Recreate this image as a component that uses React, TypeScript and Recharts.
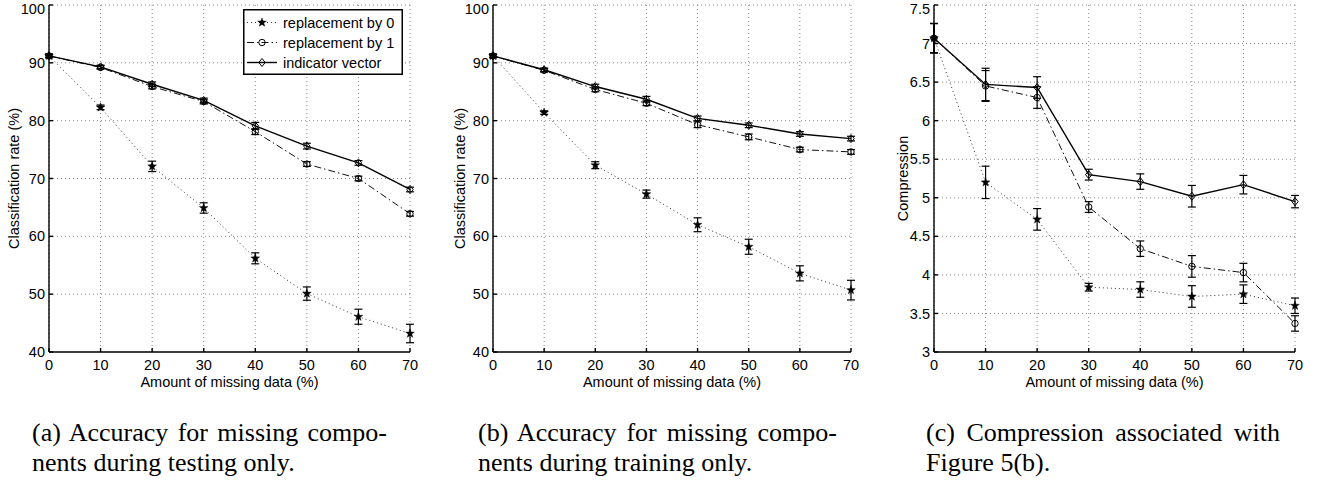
import { LineChart, Line, XAxis, YAxis, CartesianGrid, ErrorBar, Legend } from 'recharts';

// amount of missing data (%)
const missing = [0, 10, 20, 30, 40, 50, 60, 70];
const seriesNames = ['replacement by 0', 'replacement by 1', 'indicator vector'];

// (a) missing components during testing only
const aRep0 = [91.2, 82.3, 72.1, 64.9, 56.2, 50.1, 46.1, 43.2];
const aRep0Err = [0.3, 0.4, 0.9, 0.9, 0.95, 1.15, 1.3, 1.6];
const aRep1 = [91.2, 89.2, 85.9, 83.3, 78.1, 72.5, 70.0, 63.9];
const aRep1Err = [0.3, 0.3, 0.4, 0.4, 0.5, 0.4, 0.4, 0.4];
const aInd = [91.2, 89.3, 86.3, 83.5, 79.1, 75.6, 72.7, 68.1];
const aIndErr = [0.3, 0.3, 0.4, 0.4, 0.6, 0.5, 0.4, 0.4];

// (b) missing components during training only
const bRep0 = [91.2, 81.4, 72.3, 67.3, 62.0, 58.2, 53.6, 50.7];
const bRep0Err = [0.3, 0.3, 0.6, 0.7, 1.2, 1.3, 1.3, 1.7];
const bRep1 = [91.2, 88.7, 85.4, 83.0, 79.3, 77.2, 75.0, 74.6];
const bRep1Err = [0.3, 0.3, 0.4, 0.4, 0.5, 0.5, 0.4, 0.4];
const bInd = [91.2, 88.8, 85.9, 83.7, 80.4, 79.2, 77.7, 76.9];
const bIndErr = [0.3, 0.3, 0.4, 0.5, 0.4, 0.4, 0.4, 0.4];

// (c) compression
const cRep0 = [7.07, 5.2, 4.72, 3.84, 3.81, 3.72, 3.75, 3.6];
const cRep0Err = [0.19, 0.21, 0.14, 0.05, 0.1, 0.14, 0.12, 0.1];
const cRep1 = [7.07, 6.45, 6.3, 4.88, 4.34, 4.11, 4.03, 3.37];
const cRep1Err = [0.19, 0.2, 0.14, 0.07, 0.1, 0.14, 0.12, 0.1];
const cInd = [7.07, 6.47, 6.43, 5.3, 5.21, 5.02, 5.17, 4.95];
const cIndErr = [0.19, 0.21, 0.14, 0.07, 0.1, 0.14, 0.12, 0.08];

const xTicks = [0, 10, 20, 30, 40, 50, 60, 70];
const rateTicks = [40, 50, 60, 70, 80, 90, 100];
const compTicks = [3, 3.5, 4, 4.5, 5, 5.5, 6, 6.5, 7, 7.5];

const SANS = '"Liberation Sans", Arial, Helvetica, sans-serif';
const SERIF = '"Liberation Serif", "Times New Roman", Times, serif';

const makeRows = (r0: number[], r0e: number[], r1: number[], r1e: number[], ind: number[], inde: number[]) =>
    missing.map((x, i) => ({ x, r0: r0[i], r0e: r0e[i], r1: r1[i], r1e: r1e[i], ind: ind[i], inde: inde[i] }));

const Star = ({ cx, cy }: { cx: number; cy: number }) => {
    const pts = [];
    for (let k = 0; k < 10; k++) {
        const r = k % 2 === 0 ? 4.6 : 1.9;
        const a = -Math.PI / 2 + (k * Math.PI) / 5;
        pts.push(`${cx + r * Math.cos(a)},${cy + r * Math.sin(a)}`);
    }
    return <polygon points={pts.join(' ')} fill="#000" stroke="#000" strokeWidth={0.4} />;
};

const Circle = ({ cx, cy }: { cx: number; cy: number }) => (
    <circle cx={cx} cy={cy} r={3.2} fill="none" stroke="#000" strokeWidth={1} />
);

const Diamond = ({ cx, cy }: { cx: number; cy: number }) => (
    <polygon points={`${cx},${cy - 4} ${cx + 3.2},${cy} ${cx},${cy + 4} ${cx - 3.2},${cy}`} fill="none" stroke="#000" strokeWidth={1} />
);

const dotWith = (Shape: any) => (p: any) => {
    if (p.cx == null || p.cy == null) return <g key={p.index} />;
    return <Shape key={p.index} cx={p.cx} cy={p.cy} />;
};

// y tick label; the top one is kept inside the page like the original's clipped "100"
const YTick = (p: any) => (
    <text x={p.x} y={Math.max(p.y, 8.5)} dy="0.355em" textAnchor="end" fontSize={14.5} fontFamily={SANS} fill="#000">
        {p.payload.value}
    </text>
);

const styles = [
    { key: 'r0', err: 'r0e', stroke: '#333', width: 1, dash: '1 3', Shape: Star },
    { key: 'r1', err: 'r1e', stroke: '#111', width: 1, dash: '7 3 1.5 3', Shape: Circle },
    { key: 'ind', err: 'inde', stroke: '#000', width: 1.4, dash: undefined, Shape: Diamond },
];

function LegendBox() {
    return (
        <svg width={160} height={66} style={{ display: 'block' }}>
            <rect x={0.75} y={0.75} width={158.5} height={64.5} fill="#fff" stroke="#000" strokeWidth={1.5} />
            {styles.map((s, i) => {
                const y = 13.5 + i * 20;
                return (
                    <g key={s.key}>
                        <line x1={4} x2={34} y1={y} y2={y} stroke={s.stroke} strokeWidth={s.width} strokeDasharray={s.dash} />
                        <s.Shape cx={19} cy={y} />
                        <text x={40} y={y + 5} fontSize={14.5} fontFamily={SANS} fill="#000">
                            {seriesNames[i]}
                        </text>
                    </g>
                );
            })}
        </svg>
    );
}

interface PanelProps {
    left: number;
    width: number;
    yWidth: number;
    rows: any[];
    yDomain: [number, number];
    yTicks: number[];
    yLabel: string;
    yLabelOffset: number;
    showLegend?: boolean;
}

function Panel({ left, width, yWidth, rows, yDomain, yTicks, yLabel, yLabelOffset, showLegend }: PanelProps) {
    const tickStyle = { fill: '#000', fontSize: 14.5, fontFamily: SANS };
    return (
        <div style={{ position: 'absolute', left, top: 0 }}>
            <LineChart width={width} height={400} data={rows} margin={{ top: 5, right: 10, bottom: 0, left: 0 }}>
                <CartesianGrid stroke="#8a8a8a" strokeDasharray="1 3" strokeWidth={1} />
                <XAxis
                    dataKey="x"
                    type="number"
                    domain={[0, 70]}
                    ticks={xTicks}
                    interval={0}
                    height={48}
                    stroke="#000"
                    strokeWidth={1.4}
                    tickSize={-4}
                    tickMargin={12}
                    tick={tickStyle}
                    label={{ value: 'Amount of missing data (%)', position: 'insideBottom', offset: 13, fill: '#000', fontSize: 14.5, fontFamily: SANS }}
                />
                <XAxis
                    xAxisId="top"
                    orientation="top"
                    type="number"
                    domain={[0, 70]}
                    allowDataOverflow
                    ticks={xTicks}
                    interval={0}
                    height={0}
                    stroke="#000"
                    strokeWidth={1.4}
                    tickSize={-4}
                    tick={false}
                />
                <YAxis
                    type="number"
                    domain={yDomain}
                    ticks={yTicks}
                    interval={0}
                    width={yWidth}
                    stroke="#000"
                    strokeWidth={1.4}
                    tickSize={-4}
                    tickMargin={8}
                    tick={<YTick />}
                    label={{ value: yLabel, angle: -90, position: 'insideLeft', offset: yLabelOffset, fill: '#000', fontSize: 14.5, fontFamily: SANS, style: { textAnchor: 'middle' } }}
                />
                <YAxis
                    yAxisId="right"
                    orientation="right"
                    type="number"
                    domain={yDomain}
                    allowDataOverflow
                    ticks={yTicks}
                    interval={0}
                    width={0}
                    stroke="#000"
                    strokeWidth={1.4}
                    tickSize={-4}
                    tick={false}
                />
                {styles.map((s, i) => (
                    <Line
                        key={s.key}
                        dataKey={s.key}
                        name={seriesNames[i]}
                        type="linear"
                        stroke={s.stroke}
                        strokeWidth={s.width}
                        strokeDasharray={s.dash}
                        dot={dotWith(s.Shape)}
                        activeDot={false}
                        isAnimationActive={false}
                    >
                        <ErrorBar dataKey={s.err} width={4} stroke="#000" strokeWidth={1.2} direction="y" isAnimationActive={false} />
                    </Line>
                ))}
                {showLegend && (
                    <Legend
                        layout="vertical"
                        align="center"
                        verticalAlign="middle"
                        wrapperStyle={{ left: 243, top: 9, width: 160, height: 66 }}
                        content={() => <LegendBox />}
                    />
                )}
            </LineChart>
        </div>
    );
}

function Caption({ left, first, second, lineWidth }: { left: number; first: string; second: string; lineWidth: number }) {
    const base = { fontFamily: SERIF, fontSize: 26, lineHeight: '30px', color: '#000', whiteSpace: 'nowrap' as const };
    return (
        <div style={{ position: 'absolute', left, top: 418 }}>
            <div style={{ ...base, width: lineWidth, textAlign: 'justify', textAlignLast: 'justify' as any }}>{first}</div>
            <div style={{ ...base }}>{second}</div>
        </div>
    );
}

export default function App() {
    return (
        <div style={{ position: 'absolute', left: 0, top: 0, width: 1326, height: 482, background: '#fff', overflow: 'hidden' }}>
            <Panel
                left={0}
                width={420}
                yWidth={49}
                rows={makeRows(aRep0, aRep0Err, aRep1, aRep1Err, aInd, aIndErr)}
                yDomain={[40, 100]}
                yTicks={rateTicks}
                yLabel="Classification rate (%)"
                yLabelOffset={14}
                showLegend
            />
            <Panel
                left={440}
                width={421}
                yWidth={53}
                rows={makeRows(bRep0, bRep0Err, bRep1, bRep1Err, bInd, bIndErr)}
                yDomain={[40, 100]}
                yTicks={rateTicks}
                yLabel="Classification rate (%)"
                yLabelOffset={20}
            />
            <Panel
                left={880}
                width={425}
                yWidth={54}
                rows={makeRows(cRep0, cRep0Err, cRep1, cRep1Err, cInd, cIndErr)}
                yDomain={[3, 7.5]}
                yTicks={compTicks}
                yLabel="Compression"
                yLabelOffset={23}
            />
            <Caption left={32} lineWidth={355} first="(a) Accuracy for missing compo-" second="nents during testing only." />
            <Caption left={478} lineWidth={359} first="(b) Accuracy for missing compo-" second="nents during training only." />
            <Caption left={926} lineWidth={354} first="(c) Compression associated with" second="Figure 5(b)." />
        </div>
    );
}
